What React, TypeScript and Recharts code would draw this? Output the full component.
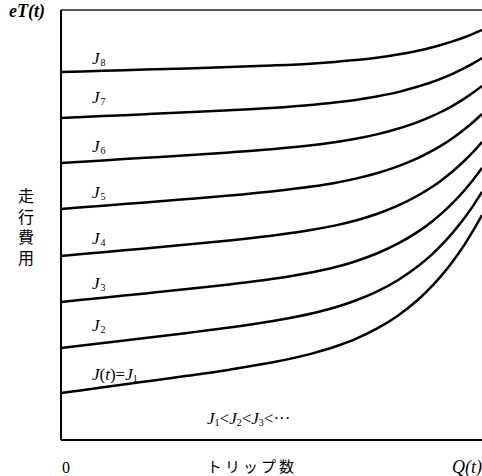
import React from 'react';
import { LineChart, Line, XAxis, YAxis, ReferenceLine } from 'recharts';

// trip count (share of capacity, 0..100)
const trips = [0, 10, 20, 30, 40, 50, 60, 65, 70, 75, 80, 85, 88, 90, 93, 96, 98, 100];

// running cost for each J level
const j1 = [47, 52.7, 58.4, 64.2, 70.3, 77.4, 86.9, 93.2, 101.1, 111.3, 124.3, 141, 153.3, 162.6, 178.3, 196.4, 210.1, 225];
const j2 = [92, 97, 102, 107.1, 112.4, 118.7, 127, 132.5, 139.5, 148.4, 159.8, 174.5, 185.2, 193.3, 207.1, 223, 234.9, 248];
const j3 = [138, 142.3, 146.6, 150.9, 155.6, 160.9, 168, 172.8, 178.8, 186.5, 196.3, 208.9, 218, 225.1, 236.9, 250.5, 260.7, 272];
const j4 = [184, 187.8, 191.6, 195.4, 199.5, 204.2, 210.4, 214.4, 219.5, 226, 234.3, 245, 252.7, 258.6, 268.5, 280, 288.5, 298];
const j5 = [231, 234.3, 237.6, 240.9, 244.4, 248.5, 253.7, 257.1, 261.4, 266.8, 273.7, 282.4, 288.8, 293.6, 301.8, 311.2, 318.2, 326];
const j6 = [277, 279.6, 282.2, 284.8, 287.6, 290.8, 295, 297.7, 301.2, 305.6, 311.2, 318.3, 323.6, 327.5, 334.2, 341.9, 347.7, 354];
const j7 = [322, 323.9, 325.8, 327.7, 329.8, 332.1, 335.3, 337.4, 340.1, 343.6, 347.9, 353.7, 357.7, 360.9, 366.2, 372.3, 376.9, 382];
const j8 = [368, 369.2, 370.4, 371.6, 372.9, 374.5, 376.6, 378.1, 379.9, 382.3, 385.5, 389.5, 392.5, 394.7, 398.6, 403, 406.4, 410];

const series = [j1, j2, j3, j4, j5, j6, j7, j8];
const keys = ['j1', 'j2', 'j3', 'j4', 'j5', 'j6', 'j7', 'j8'];

const data = trips.map((q, i) => {
  const row: Record<string, number> = { q };
  series.forEach((s, k) => { row[keys[k]] = s[i]; });
  return row;
});

const SERIF = '"Liberation Serif", "DejaVu Serif", serif';
const CJK = '"Noto Sans CJK JP", sans-serif';

// curve labels: [subscript, baseline]
const jLabels: [string, number][] = [
  ['8', 64], ['7', 103], ['6', 152], ['5', 198], ['4', 244], ['3', 289], ['2', 331],
];

function JLabel({ n, y }: { n: string; y: number }) {
  return (
    <text x={92} y={y} fontFamily={SERIF} fontSize={17} fill="#000">
      <tspan fontStyle="italic">J</tspan>
      <tspan fontSize={10} dx={1} dy={2}>{n}</tspan>
    </text>
  );
}

function Annotations() {
  return (
    <svg width={482} height={476} style={{ position: 'absolute', left: 0, top: 0, pointerEvents: 'none' }}>
      <text x={9} y={17} fontFamily={SERIF} fontSize={18} fontStyle="italic" fontWeight="bold" fill="#000">eT(t)</text>
      <text x={26} y={188} fontFamily={CJK} fontSize={16} letterSpacing={4.5} fill="#000"
        style={{ writingMode: 'vertical-rl' }}>走行費用</text>
      {jLabels.map(([n, y]) => <JLabel key={n} n={n} y={y} />)}
      <text x={92} y={380} fontFamily={SERIF} fontSize={17} fill="#000">
        <tspan fontStyle="italic">J</tspan>(<tspan fontStyle="italic">t</tspan>)=<tspan fontStyle="italic">J</tspan>
        <tspan fontSize={10} dy={2}>1</tspan>
      </text>
      <text x={207} y={424} fontFamily={SERIF} fontSize={17} fill="#000">
        <tspan fontStyle="italic">J</tspan><tspan fontSize={10} dy={2}>1</tspan>
        <tspan dy={-2}>&lt;</tspan><tspan fontStyle="italic">J</tspan><tspan fontSize={10} dy={2}>2</tspan>
        <tspan dy={-2}>&lt;</tspan><tspan fontStyle="italic">J</tspan><tspan fontSize={10} dy={2}>3</tspan>
        <tspan dy={-2}>&lt;···</tspan>
      </text>
      <text x={62} y={473} fontFamily={SERIF} fontSize={16} fill="#000">0</text>
      <text x={207} y={472} fontFamily={CJK} fontSize={15} letterSpacing={3} fill="#000">トリップ数</text>
      <text x={452} y={473} fontFamily={SERIF} fontSize={18} fontStyle="italic" fill="#000">Q(t)</text>
    </svg>
  );
}

export default function App() {
  return (
    <div style={{ position: 'fixed', left: 0, top: 0, width: 482, height: 476, overflow: 'hidden', background: '#fff' }}>
      <LineChart width={482} height={476} data={data} margin={{ top: 10, right: 0, bottom: 36, left: 61 }}>
        <XAxis type="number" dataKey="q" domain={[0, 100]} hide />
        <YAxis type="number" domain={[0, 430]} hide />
        <ReferenceLine y={430} stroke="#222" strokeWidth={1.5} />
        <ReferenceLine y={0} stroke="#000" strokeWidth={2} />
        <ReferenceLine x={0} stroke="#000" strokeWidth={2} />
        {keys.map((k) => (
          <Line key={k} type="monotone" dataKey={k} stroke="#000" strokeWidth={2.5} dot={false} isAnimationActive={false} />
        ))}
      </LineChart>
      <Annotations />
    </div>
  );
}
